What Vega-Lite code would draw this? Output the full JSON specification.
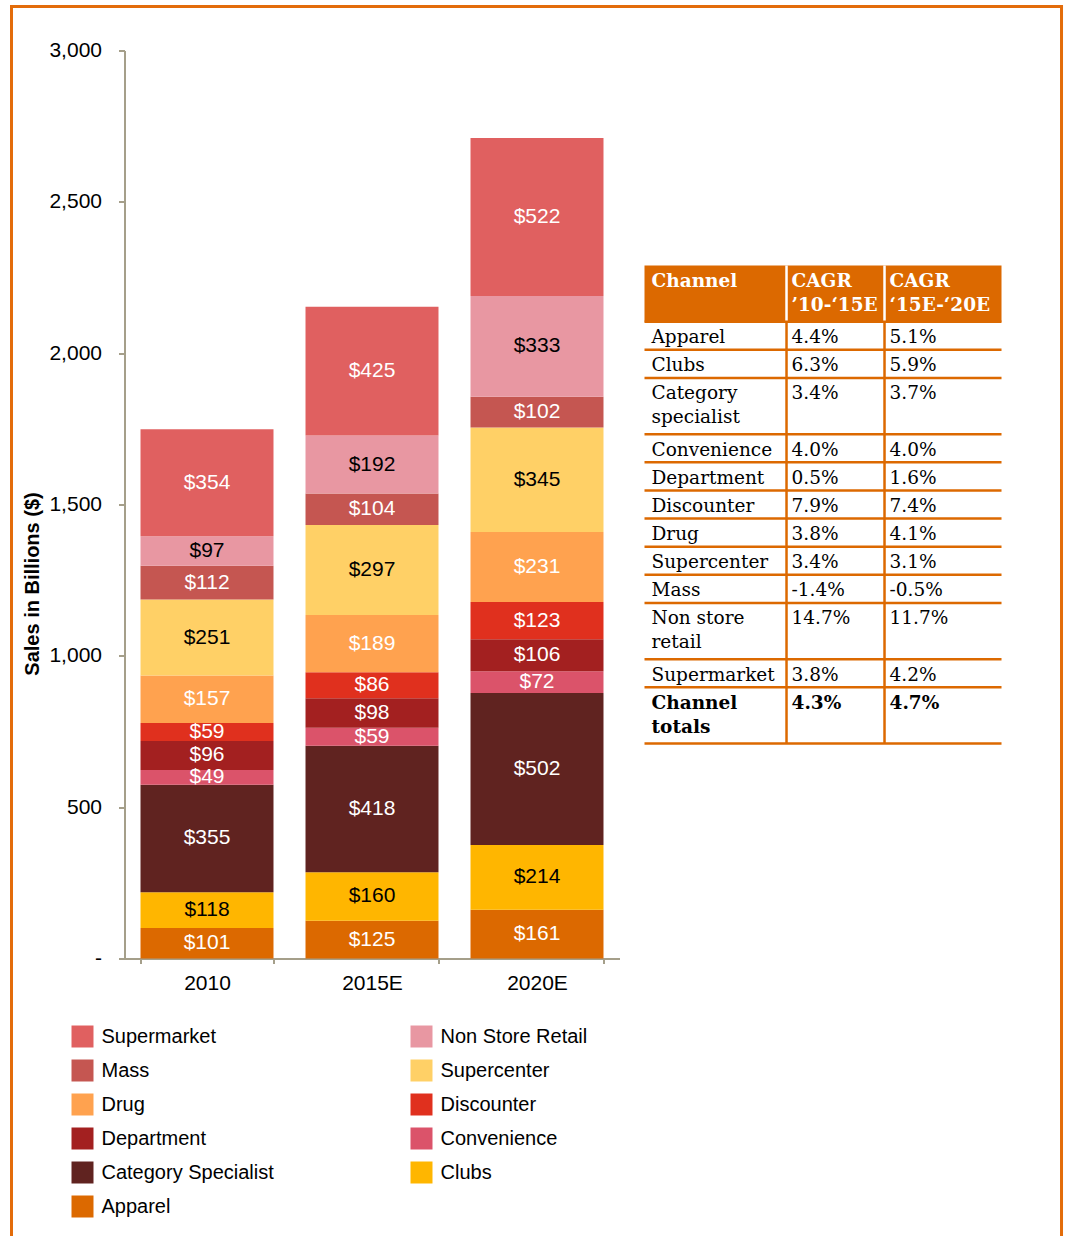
{
  "$schema": "https://vega.github.io/schema/vega-lite/v6.json",
  "padding": {"left": 8.5, "top": 3.5, "right": 0, "bottom": 0},
  "background": "white",
  "spacing": 25,
  "bounds": "flush",
  "config": {
    "font": "Liberation Sans",
    "view": {"stroke": null}
  },
  "hconcat": [
    {
      "width": 495,
      "height": 908,
      "data": {"values": [
        {"year": "2010", "channel": "Apparel", "value": 101},
        {"year": "2010", "channel": "Clubs", "value": 118},
        {"year": "2010", "channel": "Category Specialist", "value": 355},
        {"year": "2010", "channel": "Convenience", "value": 49},
        {"year": "2010", "channel": "Department", "value": 96},
        {"year": "2010", "channel": "Discounter", "value": 59},
        {"year": "2010", "channel": "Drug", "value": 157},
        {"year": "2010", "channel": "Supercenter", "value": 251},
        {"year": "2010", "channel": "Mass", "value": 112},
        {"year": "2010", "channel": "Non Store Retail", "value": 97},
        {"year": "2010", "channel": "Supermarket", "value": 354},
        {"year": "2015E", "channel": "Apparel", "value": 125},
        {"year": "2015E", "channel": "Clubs", "value": 160},
        {"year": "2015E", "channel": "Category Specialist", "value": 418},
        {"year": "2015E", "channel": "Convenience", "value": 59},
        {"year": "2015E", "channel": "Department", "value": 98},
        {"year": "2015E", "channel": "Discounter", "value": 86},
        {"year": "2015E", "channel": "Drug", "value": 189},
        {"year": "2015E", "channel": "Supercenter", "value": 297},
        {"year": "2015E", "channel": "Mass", "value": 104},
        {"year": "2015E", "channel": "Non Store Retail", "value": 192},
        {"year": "2015E", "channel": "Supermarket", "value": 425},
        {"year": "2020E", "channel": "Apparel", "value": 161},
        {"year": "2020E", "channel": "Clubs", "value": 214},
        {"year": "2020E", "channel": "Category Specialist", "value": 502},
        {"year": "2020E", "channel": "Convenience", "value": 72},
        {"year": "2020E", "channel": "Department", "value": 106},
        {"year": "2020E", "channel": "Discounter", "value": 123},
        {"year": "2020E", "channel": "Drug", "value": 231},
        {"year": "2020E", "channel": "Supercenter", "value": 345},
        {"year": "2020E", "channel": "Mass", "value": 102},
        {"year": "2020E", "channel": "Non Store Retail", "value": 333},
        {"year": "2020E", "channel": "Supermarket", "value": 522}
      ]},
      "transform": [
        {"calculate": "indexof(['Supermarket','Non Store Retail','Mass','Supercenter','Drug','Discounter','Department','Convenience','Category Specialist','Clubs','Apparel'], datum.channel)", "as": "ord"},
        {"stack": "value", "groupby": ["year"], "sort": [{"field": "ord", "order": "descending"}], "as": ["v0", "v1"]},
        {"calculate": "(datum.v0 + datum.v1) / 2", "as": "mid"}
      ],
      "encoding": {
        "x": {
          "field": "year", "type": "nominal",
          "scale": {"paddingInner": 0.194, "paddingOuter": 0.097},
          "axis": {
            "title": null, "labelAngle": 0, "labelFontSize": 21, "labelColor": "black",
            "labelFont": "Liberation Sans", "domainColor": "#A59F8A", "domainWidth": 2,
            "tickColor": "#A59F8A", "tickWidth": 2, "tickSize": 5, "tickBand": "extent",
            "labelPadding": 9
          }
        }
      },
      "layer": [
        {
          "mark": {"type": "bar"},
          "encoding": {
            "y": {
              "field": "v0", "type": "quantitative",
              "scale": {"domain": [0, 3000], "nice": false},
              "axis": {
                "values": [0, 500, 1000, 1500, 2000, 2500, 3000],
                "labelExpr": "datum.value == 0 ? '-' : format(datum.value, ',')",
                "grid": false, "labelFontSize": 21, "labelColor": "black", "labelFont": "Liberation Sans",
                "domainColor": "#A59F8A", "domainWidth": 2, "tickColor": "#A59F8A", "tickWidth": 2,
                "tickSize": 6, "labelPadding": 17,
                "title": "Sales in Billions ($)", "titleFontSize": 20, "titleFontWeight": "bold",
                "titleColor": "black", "titleFont": "Liberation Sans",
                "titleX": -92, "titleY": 533, "titleAngle": 270, "titleAlign": "center", "titleBaseline": "middle"
              }
            },
            "y2": {"field": "v1"},
            "color": {
              "field": "channel", "type": "nominal",
              "scale": {
                "domain": ["Supermarket", "Non Store Retail", "Mass", "Supercenter", "Drug", "Discounter", "Department", "Convenience", "Category Specialist", "Clubs", "Apparel"],
                "range": ["#E06060", "#E897A2", "#C55651", "#FFD066", "#FFA24F", "#E0301E", "#A32020", "#DB536A", "#602320", "#FFB600", "#DC6900"]
              },
              "legend": {
                "orient": "none", "legendX": -53, "legendY": 975, "columns": 2, "direction": "horizontal",
                "title": null, "symbolType": "square", "symbolSize": 484, "symbolStrokeWidth": 0,
                "symbolOpacity": 1, "labelFontSize": 20, "labelFont": "Liberation Sans", "labelColor": "black",
                "columnPadding": 136, "rowPadding": 12, "labelOffset": 8, "labelLimit": 300
              }
            }
          }
        },
        {
          "mark": {"type": "text", "fontSize": 21, "font": "Liberation Sans", "baseline": "middle"},
          "encoding": {
            "y": {"field": "mid", "type": "quantitative"},
            "text": {"field": "value", "type": "quantitative", "format": "$.0f"},
            "color": {
              "condition": {"test": "indexof(['Clubs','Supercenter','Non Store Retail'], datum.channel) >= 0", "value": "black"},
              "value": "white"
            }
          }
        }
      ]
    },
    {
      "width": 357,
      "height": 908,
      "data": {"values": [
        {"kind": "header", "channel": "Channel", "a": "CAGR\n’10-‘15E", "b": "CAGR\n‘15E-‘20E", "lines": 2},
        {"kind": "body", "channel": "Apparel", "a": "4.4%", "b": "5.1%", "lines": 1},
        {"kind": "body", "channel": "Clubs", "a": "6.3%", "b": "5.9%", "lines": 1},
        {"kind": "body", "channel": "Category\nspecialist", "a": "3.4%", "b": "3.7%", "lines": 2},
        {"kind": "body", "channel": "Convenience", "a": "4.0%", "b": "4.0%", "lines": 1},
        {"kind": "body", "channel": "Department", "a": "0.5%", "b": "1.6%", "lines": 1},
        {"kind": "body", "channel": "Discounter", "a": "7.9%", "b": "7.4%", "lines": 1},
        {"kind": "body", "channel": "Drug", "a": "3.8%", "b": "4.1%", "lines": 1},
        {"kind": "body", "channel": "Supercenter", "a": "3.4%", "b": "3.1%", "lines": 1},
        {"kind": "body", "channel": "Mass", "a": "-1.4%", "b": "-0.5%", "lines": 1},
        {"kind": "body", "channel": "Non store\nretail", "a": "14.7%", "b": "11.7%", "lines": 2},
        {"kind": "body", "channel": "Supermarket", "a": "3.8%", "b": "4.2%", "lines": 1},
        {"kind": "total", "channel": "Channel\ntotals", "a": "4.3%", "b": "4.7%", "lines": 2}
      ]},
      "transform": [
        {"window": [{"op": "sum", "field": "lines", "as": "yEnd"}], "frame": [null, 0]},
        {"calculate": "datum.yEnd - datum.lines", "as": "yStart"}
      ],
      "encoding": {
        "y": {
          "field": "yStart", "type": "quantitative",
          "scale": {"domain": [-7.646, 24.646], "reverse": true, "nice": false, "zero": false},
          "axis": null
        }
      },
      "layer": [
        {
          "transform": [{"filter": "datum.kind == 'header'"}],
          "mark": {"type": "rect", "color": "#DC6900"},
          "encoding": {
            "x": {"datum": 0, "type": "quantitative", "scale": {"domain": [0, 100], "nice": false, "zero": false}, "axis": null},
            "x2": {"datum": 100},
            "y2": {"field": "yEnd"}
          }
        },
        {
          "mark": {"type": "rule", "strokeWidth": 2.5},
          "encoding": {
            "x": {"datum": 39.78, "type": "quantitative", "axis": null},
            "y2": {"field": "yEnd"},
            "color": {"condition": {"test": "datum.kind == 'header'", "value": "white"}, "value": "#DC6900"}
          }
        },
        {
          "mark": {"type": "rule", "strokeWidth": 2.5},
          "encoding": {
            "x": {"datum": 67.23, "type": "quantitative", "axis": null},
            "y2": {"field": "yEnd"},
            "color": {"condition": {"test": "datum.kind == 'header'", "value": "white"}, "value": "#DC6900"}
          }
        },
        {
          "mark": {"type": "rule", "strokeWidth": 2.5, "color": "#DC6900"},
          "encoding": {
            "x": {"datum": 0, "type": "quantitative", "axis": null},
            "x2": {"datum": 100},
            "y": {"field": "yEnd", "type": "quantitative"}
          }
        },
        {
          "transform": [{"filter": "datum.kind == 'header'"}],
          "mark": {"type": "rule", "strokeWidth": 3, "color": "#E36C0A", "strokeCap": "square"},
          "encoding": {
            "x": {"datum": -177.31, "type": "quantitative", "axis": null},
            "y": {"datum": -9.211, "type": "quantitative"},
            "y2": {"datum": 34.46}
          }
        },
        {
          "transform": [{"filter": "datum.kind == 'header'"}],
          "mark": {"type": "rule", "strokeWidth": 3, "color": "#E36C0A", "strokeCap": "square"},
          "encoding": {
            "x": {"datum": 116.81, "type": "quantitative", "axis": null},
            "y": {"datum": -9.211, "type": "quantitative"},
            "y2": {"datum": 34.46}
          }
        },
        {
          "transform": [{"filter": "datum.kind == 'header'"}],
          "mark": {"type": "rule", "strokeWidth": 3, "color": "#E36C0A", "strokeCap": "square"},
          "encoding": {
            "x": {"datum": -177.31, "type": "quantitative", "axis": null},
            "x2": {"datum": 116.81},
            "y": {"datum": -9.211, "type": "quantitative"}
          }
        },
        {
          "transform": [{"filter": "datum.kind == 'body'"}],
          "mark": {"type": "text", "font": "DejaVu Serif", "fontSize": 18.5, "align": "left", "baseline": "alphabetic", "dx": 7, "dy": 21.5, "lineBreak": "\n", "lineHeight": 24, "color": "black"},
          "encoding": {
            "x": {"datum": 0, "type": "quantitative", "axis": null},
            "text": {"field": "channel"}
          }
        },
        {
          "transform": [{"filter": "datum.kind == 'body'"}],
          "mark": {"type": "text", "font": "DejaVu Serif", "fontSize": 18.5, "align": "left", "baseline": "alphabetic", "dx": 5, "dy": 21.5, "lineBreak": "\n", "lineHeight": 24, "color": "black"},
          "encoding": {
            "x": {"datum": 39.78, "type": "quantitative", "axis": null},
            "text": {"field": "a"}
          }
        },
        {
          "transform": [{"filter": "datum.kind == 'body'"}],
          "mark": {"type": "text", "font": "DejaVu Serif", "fontSize": 18.5, "align": "left", "baseline": "alphabetic", "dx": 5, "dy": 21.5, "lineBreak": "\n", "lineHeight": 24, "color": "black"},
          "encoding": {
            "x": {"datum": 67.23, "type": "quantitative", "axis": null},
            "text": {"field": "b"}
          }
        },
        {
          "transform": [{"filter": "datum.kind != 'body'"}],
          "mark": {"type": "text", "font": "DejaVu Serif", "fontSize": 18.5, "fontWeight": "bold", "align": "left", "baseline": "alphabetic", "dx": 7, "dy": 21.5, "lineBreak": "\n", "lineHeight": 24},
          "encoding": {
            "x": {"datum": 0, "type": "quantitative", "axis": null},
            "text": {"field": "channel"},
            "color": {"condition": {"test": "datum.kind == 'header'", "value": "white"}, "value": "black"}
          }
        },
        {
          "transform": [{"filter": "datum.kind != 'body'"}],
          "mark": {"type": "text", "font": "DejaVu Serif", "fontSize": 18.5, "fontWeight": "bold", "align": "left", "baseline": "alphabetic", "dx": 5, "dy": 21.5, "lineBreak": "\n", "lineHeight": 24},
          "encoding": {
            "x": {"datum": 39.78, "type": "quantitative", "axis": null},
            "text": {"field": "a"},
            "color": {"condition": {"test": "datum.kind == 'header'", "value": "white"}, "value": "black"}
          }
        },
        {
          "transform": [{"filter": "datum.kind != 'body'"}],
          "mark": {"type": "text", "font": "DejaVu Serif", "fontSize": 18.5, "fontWeight": "bold", "align": "left", "baseline": "alphabetic", "dx": 5, "dy": 21.5, "lineBreak": "\n", "lineHeight": 24},
          "encoding": {
            "x": {"datum": 67.23, "type": "quantitative", "axis": null},
            "text": {"field": "b"},
            "color": {"condition": {"test": "datum.kind == 'header'", "value": "white"}, "value": "black"}
          }
        }
      ]
    }
  ]
}
